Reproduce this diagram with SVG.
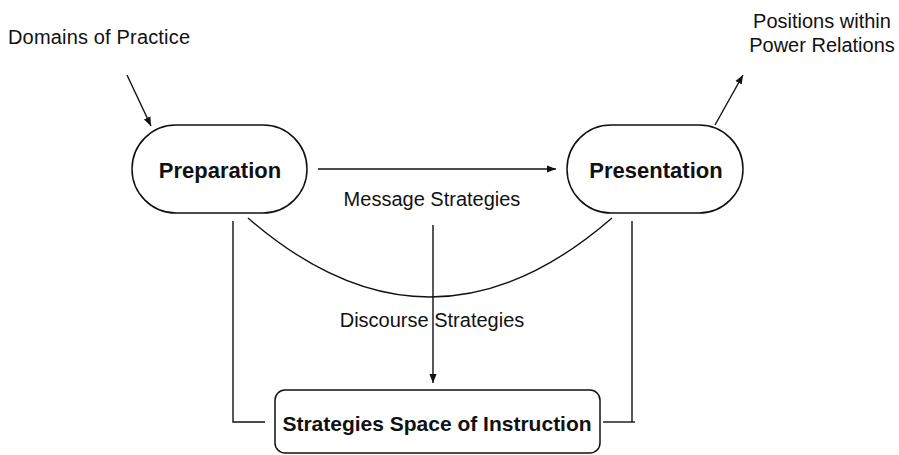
<svg xmlns="http://www.w3.org/2000/svg" width="899" height="455" viewBox="0 0 899 455">
  <defs>
    <marker id="arrow" viewBox="0 0 10 10" refX="10" refY="5" markerWidth="9" markerHeight="9" markerUnits="userSpaceOnUse" orient="auto">
      <path d="M0,1 L10,5 L0,9 Z" fill="#111"/>
    </marker>
  </defs>
  <style>
    .shape { fill: #fff; stroke: #111; stroke-width: 1.5; }
    .line { fill: none; stroke: #111; stroke-width: 1.4; }
    .label { font-family: "Liberation Sans", Arial, Helvetica, sans-serif; font-size: 20px; fill: #111; }
    .title { font-family: "Liberation Sans", Arial, Helvetica, sans-serif; font-weight: bold; fill: #111; text-anchor: middle; }
  </style>
  <rect width="899" height="455" fill="#fff"/>

  <!-- connectors -->
  <g id="connectors">
    <line class="line" x1="127" y1="75" x2="151" y2="126" marker-end="url(#arrow)"/>
    <line class="line" x1="715" y1="125" x2="743" y2="75" marker-end="url(#arrow)"/>
    <line class="line" x1="318" y1="169" x2="556" y2="169" marker-end="url(#arrow)"/>
    <path class="line" d="M248,218 Q430,376 612,218"/>
    <line class="line" x1="433" y1="225" x2="433" y2="383" marker-end="url(#arrow)"/>
    <polyline class="line" points="233,221 233,422 265,422"/>
    <line class="line" x1="603" y1="422" x2="635" y2="422"/>
    <line class="line" x1="632" y1="221" x2="632" y2="422"/>
  </g>

  <!-- free labels -->
  <g id="domains">
    <text class="label" x="8" y="44" textLength="182">Domains of Practice</text>
  </g>
  <g id="positions">
    <text class="label" x="822" y="28" text-anchor="middle">Positions within</text>
    <text class="label" x="822" y="52" text-anchor="middle">Power Relations</text>
  </g>
  <g id="message">
    <text class="label" x="432" y="206" text-anchor="middle">Message Strategies</text>
  </g>
  <g id="discourse">
    <text class="label" x="432" y="327" text-anchor="middle">Discourse Strategies</text>
  </g>

  <!-- nodes -->
  <g id="preparation">
    <rect class="shape" x="132" y="125" width="175" height="88" rx="44" ry="44"/>
    <text class="title" x="220" y="178" font-size="22">Preparation</text>
  </g>
  <g id="presentation">
    <rect class="shape" x="567" y="125" width="176" height="88" rx="44" ry="44"/>
    <text class="title" x="656" y="178" font-size="22">Presentation</text>
  </g>
  <g id="strategies-space">
    <rect class="shape" x="275" y="390" width="325" height="63" rx="10" ry="10"/>
    <text class="title" x="437" y="431" font-size="21">Strategies Space of Instruction</text>
  </g>
</svg>
